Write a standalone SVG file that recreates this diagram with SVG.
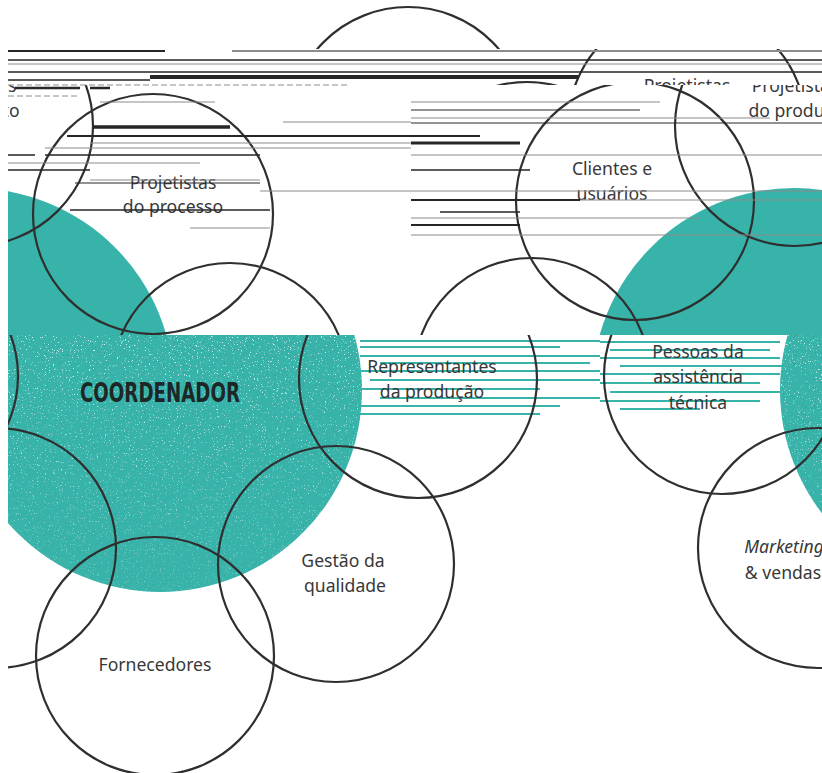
<svg xmlns="http://www.w3.org/2000/svg" width="822" height="773" viewBox="0 0 822 773">
  <style>
    .ring { fill: none; stroke: #2f2f2f; stroke-width: 2.2; }
    .disc { fill: #37b3aa; }
    .lbl { font-family: "Noto Sans", "Open Sans", sans-serif; font-size: 17.6px; fill: #383838; text-anchor: middle; }
    .it { font-style: italic; }
    .coord { font-family: "DejaVu Sans Condensed", "DejaVu Sans", sans-serif; font-weight: bold; font-size: 27px; fill: #1d2727; }
    .sk { fill: none; stroke: #262626; }
    .sg { fill: none; stroke: #8c8c8c; }
    .st { fill: none; stroke: #37b3aa; }
  </style>
  <defs>
    <!-- horizontal bands of the scan; each band is offset sideways -->
    <clipPath id="bandA"><rect x="8" y="0" width="814" height="49"/></clipPath>
    <clipPath id="bandB"><rect x="8" y="49" width="814" height="36"/></clipPath>
    <clipPath id="bandU"><rect x="8" y="85" width="814" height="250"/></clipPath>
    <clipPath id="bandL"><rect x="8" y="335" width="814" height="438"/></clipPath>
    <clipPath id="coordDisc"><circle cx="160" cy="390" r="202"/><circle cx="982" cy="390" r="202"/></clipPath>
    <filter id="grainLight" x="0" y="0" width="1" height="1">
      <feTurbulence type="fractalNoise" baseFrequency="0.75" numOctaves="2" seed="7"/>
      <feColorMatrix type="matrix" values="0 0 0 0 1  0 0 0 0 1  0 0 0 0 1  10 0 0 0 -6.5"/>
    </filter>
    <filter id="grainDark" x="0" y="0" width="1" height="1">
      <feTurbulence type="fractalNoise" baseFrequency="0.9" numOctaves="1" seed="19"/>
      <feColorMatrix type="matrix" values="0 0 0 0 0.1  0 0 0 0 0.1  0 0 0 0 0.1  0 -12 0 0 3.5"/>
    </filter>
    <!-- grain is heavy near the band edge and thins out lower down -->
    <linearGradient id="grainFade" x1="0" y1="335" x2="0" y2="600" gradientUnits="userSpaceOnUse">
      <stop offset="0" stop-color="#fff" stop-opacity="1"/>
      <stop offset="0.35" stop-color="#fff" stop-opacity="0.75"/>
      <stop offset="1" stop-color="#fff" stop-opacity="0.35"/>
    </linearGradient>
    <mask id="grainMask"><rect x="0" y="335" width="822" height="265" fill="url(#grainFade)"/></mask>
  </defs>

  <rect width="822" height="773" fill="#ffffff"/>

  <!-- top strip: only the uppermost circle -->
  <g id="band-top" clip-path="url(#bandA)">
    <circle class="ring" cx="408" cy="126" r="119"/>
  </g>

  <!-- narrow strip -->
  <g id="band-strip" clip-path="url(#bandB)">
    <g id="projetistas-produto-strip">
      <circle class="ring" cx="687" cy="126" r="119"/>
      <text class="lbl" x="687" y="92">Projetistas</text>
    </g>
    <circle class="ring" cx="527" cy="201" r="119"/>
  </g>

  <!-- upper band -->
  <g id="band-upper" clip-path="url(#bandU)">
    <circle class="disc" cx="-28" cy="390" r="202"/>
    <circle class="disc" cx="794" cy="390" r="202"/>
    <g id="projetistas-processo">
      <circle class="ring" cx="153" cy="214" r="120"/>
      <text class="lbl" x="173" y="189">Projetistas</text>
      <text class="lbl" x="173" y="213">do processo</text>
    </g>
    <g id="clientes-usuarios">
      <circle class="ring" cx="635" cy="201" r="119"/>
      <text class="lbl" x="612" y="175">Clientes e</text>
      <text class="lbl" x="612" y="200">usuários</text>
    </g>
    <g id="projetistas-produto">
      <circle class="ring" cx="795" cy="126" r="120"/>
      <text class="lbl" x="795" y="92">Projetistas</text>
      <text class="lbl" x="795" y="117">do produto</text>
    </g>
    <g id="projetistas-produto-wrap">
      <circle class="ring" cx="-27" cy="126" r="120"/>
      <text class="lbl" x="-27" y="92">Projetistas</text>
      <text class="lbl" x="-27" y="117">do produto</text>
    </g>
    <circle class="ring" cx="230" cy="381" r="118"/>
    <circle class="ring" cx="532" cy="376" r="118"/>
  </g>

  <!-- lower band -->
  <g id="band-lower" clip-path="url(#bandL)">
    <g id="coordenador">
      <circle class="disc" cx="160" cy="390" r="202"/>
      <circle class="disc" cx="982" cy="390" r="202"/>
      <g clip-path="url(#coordDisc)" mask="url(#grainMask)">
        <rect x="0" y="335" width="822" height="265" filter="url(#grainLight)" opacity="0.8"/>
        <rect x="0" y="335" width="822" height="265" filter="url(#grainDark)" opacity="0.55"/>
      </g>
      <text class="coord" x="80" y="402" textLength="160" lengthAdjust="spacingAndGlyphs">COORDENADOR</text>
    </g>
    <!-- teal streaks across the band top -->
    <g id="teal-streaks">
      <path class="st" stroke-width="2" d="M360 341H600M360 347H560M360 356H600M380 363H590M360 371H600M370 380H600M360 389H540M380 398H600M360 406H560M270 414H540"/>
      <path class="st" stroke-width="2" d="M600 342H780M610 350H770M600 358H780M620 366H790M600 374H780M600 383H760M610 392H780M600 401H760M620 409H700"/>
    </g>
    <g id="representantes">
      <circle class="ring" cx="418" cy="379" r="119"/>
      <text class="lbl" x="432" y="373">Representantes</text>
      <text class="lbl" x="432" y="398">da produção</text>
    </g>
    <g id="assistencia-tecnica">
      <circle class="ring" cx="722" cy="376" r="118"/>
      <circle class="ring" cx="-100" cy="376" r="118"/>
      <text class="lbl" x="698" y="358">Pessoas da</text>
      <text class="lbl" x="698" y="383">assistência</text>
      <text class="lbl" x="698" y="409">técnica</text>
    </g>
    <g id="gestao-qualidade">
      <circle class="ring" cx="336" cy="564" r="118"/>
      <text class="lbl" x="343" y="567">Gestão da</text>
      <text class="lbl" x="345" y="592">qualidade</text>
    </g>
    <g id="fornecedores">
      <circle class="ring" cx="155" cy="656" r="119"/>
      <text class="lbl" x="155" y="671">Fornecedores</text>
    </g>
    <g id="marketing-vendas">
      <circle class="ring" cx="818" cy="548" r="120"/>
      <circle class="ring" cx="-4" cy="548" r="120"/>
      <text class="lbl it" x="784" y="553">Marketing</text>
      <text class="lbl" x="783" y="579">&amp; vendas</text>
    </g>
  </g>

  <!-- scan streaks over the upper part -->
  <g id="streaks">
    <path class="sk" stroke-width="2" d="M8 51H165"/>
    <path class="sg" stroke-width="2" d="M232 51H822"/>
    <path class="sk" stroke-width="1.5" d="M8 60H822M8 72H822M8 80H150"/>
    <path class="sg" stroke-width="1" d="M8 64H822"/>
    <path class="sk" stroke-width="4" d="M150 77H578"/>
    <path class="sg" stroke-width="1" stroke-dasharray="6 3" d="M8 85H350M8 96H80"/>
    <path class="sk" stroke-width="2.5" d="M15 88H80M90 88H110"/>
    <path class="sg" stroke-width="1.2" d="M100 102H215M411 102H660M411 118H770M283 122H411M90 143H411M45 148H411M411 155H822M8 163H200M90 180H260M260 191H822M580 200H822M411 218H700M190 228H270M411 235H822"/>
    <path class="sk" stroke-width="1" d="M411 110H640M411 123H822M75 183H260"/>
    <path class="sk" stroke-width="3.5" d="M93 127H230"/>
    <path class="sk" stroke-width="2" d="M67 136H480M411 200H580M411 225H520"/>
    <path class="sk" stroke-width="3" d="M411 143H520"/>
    <path class="sk" stroke-width="1.5" d="M8 155H35M45 155H260M8 170H90M411 170H530M70 210H270M440 212H520"/>
  </g>
</svg>
